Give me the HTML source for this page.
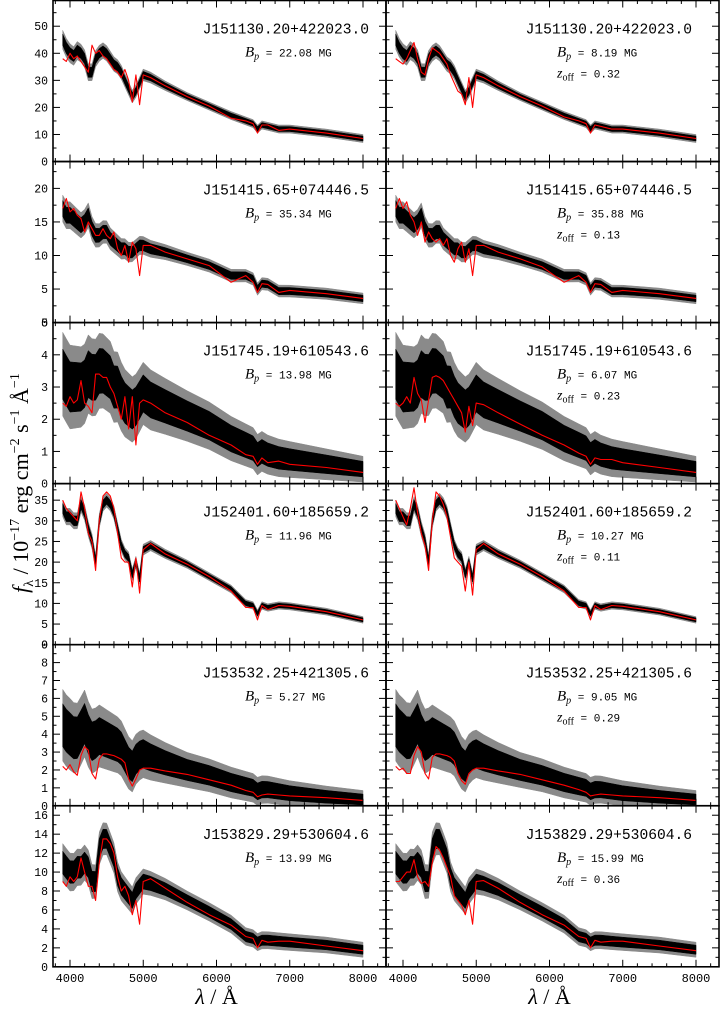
<!DOCTYPE html>
<html><head><meta charset="utf-8"><style>
html,body{margin:0;padding:0;background:#fff;width:720px;height:1011px;overflow:hidden}
svg{display:block}
.mono{font-family:"Liberation Mono","DejaVu Sans Mono",monospace}
.serif{font-family:"Liberation Serif","DejaVu Serif",serif}
</style></head><body>
<svg id="fig" width="720" height="1011" viewBox="0 0 720 1011" xmlns="http://www.w3.org/2000/svg"></svg>
<script>
const wavelengths=[3900,3950,4000,4050,4100,4150,4200,4250,4300,4350,4400,4450,4500,4550,4600,4650,4700,4750,4800,4850,4900,4950,5000,5100,5300,5600,5900,6200,6400,6500,6560,6620,6700,6850,7000,7500,8000];
const objectNames=["J151130.20+422023.0","J151415.65+074446.5","J151745.19+610543.6","J152401.60+185659.2","J153532.25+421305.6","J153829.29+530604.6"];
const fieldLeft=["22.08","35.34","13.98","11.96","5.27","13.99"];
const fieldRight=["8.19","35.88","6.07","10.27","9.05","15.99"];
const zoffRight=["0.32","0.13","0.23","0.11","0.29","0.36"];
const yMax=[59.5,24,5,39,9,17];
const yTicks=[[0,10,20,30,40,50],[0,5,10,15,20],[0,1,2,3,4,5],[0,5,10,15,20,25,30,35],[0,1,2,3,4,5,6,7,8,9],[0,2,4,6,8,10,12,14,16]];
const xTicks=[4000,5000,6000,7000,8000];
const noiseAnchorsWl=[4000,5500,8000];
const noise=[[3.5,1.5,1.5],[2,1,0.8],[1.3,0.8,0.4],[2,1,0.8],[2,1,0.5],[2,1,0.8]];
const obs1=[45,42,40,39,41,40,38,33,33,38,40,41,40,38,36,35,33,30,27,24,26,29,32,31,28,24,20.5,17,15,14,12,13.5,13,12,12,10.5,8.5];
const obs2=[17,16,16,15.5,15,14.5,15,16,14,13,13,13.5,13.5,12.5,12,11.5,11,11,10.5,10.5,11,11.5,11.5,11,10.5,9.5,8.5,7,7,6.5,5,5.8,5.7,4.7,4.7,4.3,3.6];
const obs3=[3.4,3.2,3.0,3.0,3.0,3.0,3.1,3.4,3.3,3.3,3.5,3.5,3.4,3.3,3.0,3.0,2.7,2.5,2.4,2.3,2.4,2.6,2.8,2.6,2.4,2.1,1.8,1.4,1.2,1.1,0.9,1.0,0.9,0.8,0.75,0.6,0.45];
const obs4=[33,31,31,30,30,34,32,28,25,20,30,34,35,34,32,28,24,22,21,17,20,16,23,24,22,19.5,16.5,13.5,10,9.5,7.5,9.5,9,9.5,9.3,8,6];
const obs5=[4.5,4.2,4.0,3.8,3.8,4.2,4.6,4.0,3.6,3.7,3.9,3.8,3.7,3.6,3.5,3.4,3.2,2.8,2.4,2.2,2.6,2.8,2.9,2.7,2.4,2.0,1.7,1.3,1.1,1.0,0.8,0.9,0.9,0.8,0.7,0.5,0.35];
const obs6=[11,10.5,10,10,10.5,10.5,11,10.5,9,9,12.5,13.5,13.5,12.5,11.5,9.5,8.5,8,7.5,7,8,8.5,9,8.8,8.2,7,5.8,4.5,3.2,3,2.6,2.8,2.8,2.7,2.6,2.3,1.8];
const modelL1=[38,37,40,38,39,37,35,33,43,40,41,39,38,36,34,33,31,34,30,22,32,21,32,31,28,24,20.5,16,15,14,10.5,13.5,13.5,11.5,12,10.5,8.5];
const modelR1=[38,37,36,38,41,44,38,33,32,38,42,41,40,38,36,32,29,26,25,21,31,20,32,31,28,24,20.5,16.5,15,14,10.5,13.5,13,12,12,10.5,8.5];
const modelL2=[17,18.5,16.5,17,16,15.5,13.5,15,14,13,13,14,13,12.5,13.5,11,10,11.5,9,12,11,7,11.5,11.5,10.5,9.5,8.5,6,7,6,4.5,5.8,5.7,4.5,4.8,4.3,3.6];
const modelR2=[17,18.5,17,18,16,15,13,15,12,13.5,12.5,12,12.5,11.5,12.5,10,9,11,12,9,11,7,11.5,11.5,10.5,9.5,8.3,6,7,6,4.5,5.8,5.7,4.5,4.8,4.3,3.6];
const modelL3=[2.5,2.4,2.7,2.5,2.6,3.2,2.5,2.4,2.2,3.4,3.4,3.3,3.3,3.0,2.8,2.4,2.0,2.7,1.7,2.7,1.2,2.5,2.6,2.5,2.2,1.9,1.5,1.2,0.9,0.85,0.6,0.8,0.65,0.7,0.6,0.5,0.35];
const modelR3=[2.5,2.4,2.5,2.7,2.5,3.3,2.8,2.6,1.9,2.6,3.3,3.35,3.3,3.2,3.0,2.8,2.6,2.4,2.2,1.6,2.4,1.8,2.5,2.45,2.2,1.85,1.5,1.2,0.95,0.85,0.6,0.8,0.75,0.75,0.65,0.5,0.35];
const modelL4=[35,33,32,31,30,37,33,27,25,18,30,36,37,36,33,27,21,20,20,14,21,12.5,23,24.5,22,19.5,16.5,13,9,9,6,9.5,8.5,9.5,9.3,8,6];
const modelR4=[35,33,31,29,33,38,32,27,24,18,30,37,36,34,31,26,21,20,19,13,20,12,23,24.5,22,19.5,16.5,13,9,9,6,9.5,8.5,9.5,9.3,8,6];
const modelL5=[2.2,2.0,2.3,1.9,1.7,2.8,3.3,3.1,1.8,1.5,2.6,2.9,2.9,2.85,2.8,2.7,2.6,2.4,1.5,1.1,1.5,2.0,2.1,2.1,1.95,1.75,1.45,1.15,0.85,0.75,0.5,0.6,0.65,0.6,0.55,0.45,0.3];
const modelR5=[2.2,2.0,2.1,1.8,1.8,2.8,3.3,3.0,1.8,1.5,2.7,2.9,2.9,2.85,2.8,2.7,2.5,1.8,1.4,1.2,1.8,2.0,2.1,2.1,1.95,1.75,1.45,1.15,0.9,0.75,0.55,0.6,0.65,0.6,0.55,0.45,0.3];
const modelL6=[9,8.5,9.5,9,9.5,11.5,10,8.5,8.5,7,11,13.5,13.5,13,12,9.5,8,8.5,7.5,5.5,7,4.5,9,9.3,8.3,6.8,5.5,4.4,3.2,3,2,2.8,2.6,2.7,2.7,2.2,1.7];
const modelR6=[9,9,9.5,10,10,11.3,9.5,8.8,9,8.5,11,12.7,12.3,11.5,10.5,9.5,7.5,7,6.5,5.5,7,4.5,9,9.1,8.3,6.8,5.5,4.4,3.2,3,2,2.8,2.6,2.7,2.7,2.2,1.7];

const observed=[obs1,obs2,obs3,obs4,obs5,obs6];
const modelsLeft=[modelL1,modelL2,modelL3,modelL4,modelL5,modelL6];
const modelsRight=[modelR1,modelR2,modelR3,modelR4,modelR5,modelR6];

const NS="http://www.w3.org/2000/svg";
const svg=document.getElementById('fig');
function mk(tag,attrs,parent){const e=document.createElementNS(NS,tag);for(const k in attrs)e.setAttribute(k,attrs[k]);(parent||svg).appendChild(e);return e;}
const colX=[[53,386],[386,719]];
const WL0=3768, PXPER=0.07325;
const rowH=161.05;
function noiseAt(r,wl){const a=noiseAnchorsWl,n=noise[r];if(wl<=a[0])return n[0];for(let i=0;i<a.length-1;i++){if(wl<=a[i+1]){const t=(wl-a[i])/(a[i+1]-a[i]);return n[i]+t*(n[i+1]-n[i]);}}return n[n.length-1];}

for(let r=0;r<6;r++){
  const top=0.5+r*rowH, bot=top+rowH;
  const ys=v=>bot-v/yMax[r]*rowH;
  for(let c=0;c<2;c++){
    const x0=colX[c][0],x1=colX[c][1];
    const xs=wl=>x0+(wl-WL0)*PXPER;
    const g=mk('g',{});
    
    
    const cid='clip'+r+'_'+c;
    const cp=mk('clipPath',{id:cid},g);mk('rect',{x:x0,y:top,width:x1-x0,height:rowH},cp);
    const pg=mk('g',{'clip-path':'url(#'+cid+')'},g);
    const obs=observed[r];
    for(const [k,col] of [[1.0,'#8a8a8a'],[0.6,'#000']]){
      let up=[],dn=[];
      for(let i=0;i<wavelengths.length;i++){const w=wavelengths[i],n=noiseAt(r,w)*k;up.push(xs(w).toFixed(1)+','+ys(obs[i]+n).toFixed(1));dn.unshift(xs(w).toFixed(1)+','+ys(Math.max(obs[i]-n,-1)).toFixed(1));}
      const band=mk('polygon',{points:up.concat(dn).join(' '),fill:col,stroke:col,'stroke-width':0.5},pg);
      
      
    }
    const model=(c?modelsRight:modelsLeft)[r];
    const pts=wavelengths.map((w,i)=>xs(w).toFixed(1)+','+ys(model[i]).toFixed(1)).join(' ');
    const ml=mk('polyline',{points:pts,fill:'none',stroke:'#f00','stroke-width':1.1,'stroke-linejoin':'round'},pg);
    
    
    const tk=mk('g',{stroke:'#000','stroke-width':1},g);
    for(let w=3800;w<=8200;w+=200){const x=xs(w);if(x<=x0||x>=x1)continue;const L=(w%1000===0)?7:3.5;
      mk('line',{x1:x,y1:bot,x2:x,y2:bot-L},tk);mk('line',{x1:x,y1:top,x2:x,y2:top+L},tk);}
    const yt=yTicks[r],step=yt[1]-yt[0];
    for(let v=0;v<=yMax[r];v+=step/2){const y=ys(v);if(y>=bot-0.1||y<=top+0.1)continue;const L=(Math.abs(v/step-Math.round(v/step))<1e-6)?7:3.5;
      mk('line',{x1:x0,y1:y,x2:x0+L,y2:y},tk);mk('line',{x1:x1,y1:y,x2:x1-L,y2:y},tk);}
    const fr=mk('rect',{x:x0,y:top,width:x1-x0,height:rowH,fill:'none',stroke:'#000','stroke-width':1.6},g);
    
    
    const nx=c?692:369;
    const nm=mk('text',{x:nx,y:top+33,'text-anchor':'end','font-size':'14.6',class:'mono'},g);nm.textContent=objectNames[r];
    
    
    const bx=c?557:245;
    const bt=mk('text',{x:bx,y:top+56,'font-size':'11',class:'mono'},g);
    
    
    bt.innerHTML='<tspan class="serif" font-style="italic" font-size="15">B</tspan><tspan class="serif" font-style="italic" font-size="10" dy="3">p</tspan><tspan dy="-3"> = '+(c?fieldRight[r]:fieldLeft[r])+' MG</tspan>';
    if(c){const zt=mk('text',{x:bx,y:top+77,'font-size':'11',class:'mono'},g);
      
      
      zt.innerHTML='<tspan class="serif" font-style="italic" font-size="14">z</tspan><tspan class="serif" font-size="10" dy="3">off</tspan><tspan dy="-3"> = '+zoffRight[r]+'</tspan>';}
    if(c===0){for(const v of yt){const y=ys(v);const t=mk('text',{x:48,y:y+4,'text-anchor':'end','font-size':'11.5',class:'mono'},g);t.textContent=v;
      
      }}
    if(r===5){for(const w of xTicks){const t=mk('text',{x:xs(w),y:bot+15,'text-anchor':'middle','font-size':'12',class:'mono'},g);t.textContent=w;
      
      }
      const xl=mk('text',{x:(x0+x1)/2-3,y:1004,'text-anchor':'middle','font-size':'22',class:'serif'},g);
      
      
      xl.innerHTML='<tspan font-style="italic">λ</tspan> / Å';}
  }
}
const yl=mk('text',{x:0,y:0,transform:'translate(28,483) rotate(-90)','text-anchor':'middle','font-size':'22',class:'serif'});


yl.innerHTML='<tspan font-style="italic">f</tspan><tspan font-size="14" dy="5">λ</tspan><tspan dy="-5"> / 10</tspan><tspan font-size="14" dy="-9">−17</tspan><tspan dy="9"> erg cm</tspan><tspan font-size="14" dy="-9">−2</tspan><tspan dy="9"> s</tspan><tspan font-size="14" dy="-9">−1</tspan><tspan dy="9"> Å</tspan><tspan font-size="14" dy="-9">−1</tspan>';
</script>
</body></html>
